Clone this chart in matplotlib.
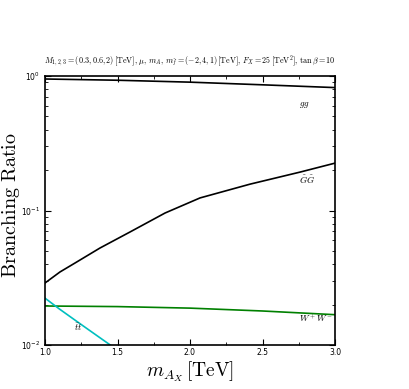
import matplotlib
matplotlib.use("Agg")
import matplotlib.pyplot as plt
from matplotlib.ticker import MultipleLocator

plt.rcParams['mathtext.fontset'] = 'cm'

# branching ratios
mass_gg = [1.0, 1.5, 2.0, 2.5, 3.0]
br_gg = [0.95, 0.93, 0.90, 0.86, 0.82]

mass_gogo = [1.0, 1.103, 1.207, 1.379, 1.586, 1.828, 2.069, 2.414, 2.759, 3.0]
br_gogo = [0.0289, 0.0349, 0.0407, 0.0526, 0.0692, 0.0958, 0.124, 0.157, 0.193, 0.225]

mass_ww = [1.0, 1.5, 2.0, 2.5, 3.0]
br_ww = [0.0195, 0.0193, 0.0188, 0.0179, 0.0168]

mass_tt = [1.0, 1.1, 1.2, 1.3, 1.45, 1.5]
br_tt = [0.0223, 0.0185, 0.0155, 0.0130, 0.0100, 0.0093]

title = (r"$M_{1,2,3}=(0.3,0.6,2)\,[\mathrm{TeV}],\,\mu,\,m_A,\,m_{\tilde{f}}=(-2,4,1)\,[\mathrm{TeV}],"
         r"\,F_X=25\,[\mathrm{TeV}^2],\,\tan\beta=10$")

fig = plt.figure(figsize=(4.09, 3.89), dpi=100)
ax = fig.add_axes([45 / 409, 1 - 345 / 389, 290 / 409, 269 / 389])

ax.plot(mass_gg, br_gg, color='black', lw=1.2)
ax.plot(mass_gogo, br_gogo, color='black', lw=1.2)
ax.plot(mass_ww, br_ww, color='green', lw=1.2)
ax.plot(mass_tt, br_tt, color='c', lw=1.2)

ax.text(2.75, 0.60, r"$gg$", fontsize=6.5)
ax.text(2.75, 0.158, r"$\tilde{G}\tilde{G}$", fontsize=6.5)
ax.text(2.75, 0.0148, r"$W^+W^-$", fontsize=6.5)
ax.text(1.2, 0.0128, r"$\bar{t}t$", fontsize=6.5)

ax.set_yscale('log')
ax.set_xlim(1.0, 3.0)
ax.set_ylim(1e-2, 1e0)
ax.xaxis.set_major_locator(MultipleLocator(0.5))
ax.xaxis.set_minor_locator(MultipleLocator(0.25))
ax.tick_params(which='both', direction='in', top=True, right=True, labelsize=5.5, pad=2)
ax.tick_params(axis='y', which='major', pad=3.5)
ax.tick_params(which='major', length=4)
ax.tick_params(which='minor', length=2.5)
for s in ax.spines.values():
    s.set_linewidth(1.2)

ax.set_title(title, fontsize=5.8, pad=9)
ax.set_xlabel(r"$m_{A_X}\,[\mathrm{TeV}]$", fontsize=14, labelpad=2)
ax.set_ylabel(r"$\mathrm{Branching\ Ratio}$", fontsize=14.5)
ax.yaxis.set_label_coords(-0.079, 0.52)

fig.savefig("out.png", dpi=100)
